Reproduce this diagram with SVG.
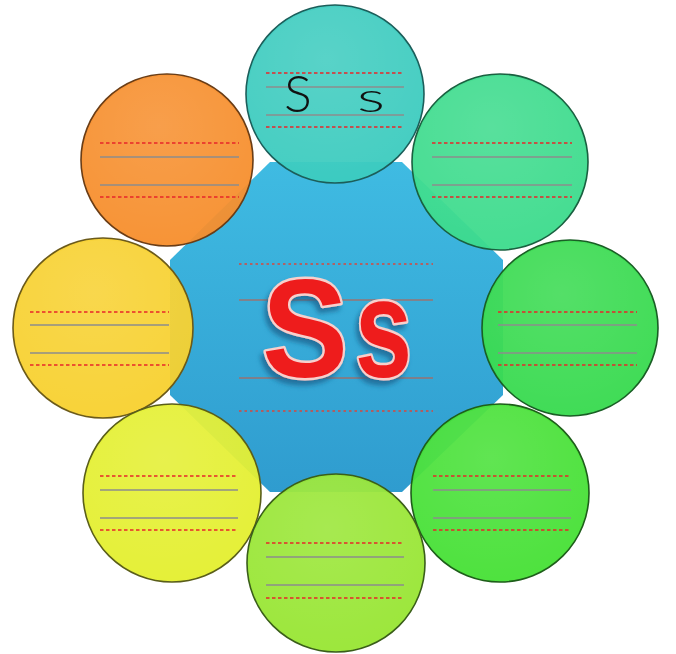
<svg xmlns="http://www.w3.org/2000/svg" width="676" height="654" viewBox="0 0 676 654">
  <style>
    .petal { stroke-width: 1.6; fill-opacity: 0.95; }
    .red { stroke: #e8262a; stroke-width: 1.3; stroke-dasharray: 3.5 2.5; fill: none; }
    .gray { stroke: #8c8c8c; stroke-width: 1.4; fill: none; }
    .cdot { stroke: #d9473c; stroke-width: 1.6; stroke-dasharray: 2.5 3; fill: none; }
    .csolid { stroke: #c9563f; stroke-width: 1; fill: none; }
    .big { font-family: "Liberation Sans", Arial, sans-serif; font-weight: bold; font-size: 140px; }
    .small { font-family: Lato, "Open Sans", "Liberation Sans", sans-serif; font-weight: 300; fill: #111; }
  </style>
  <defs>
    <linearGradient id="blue" x1="0" y1="0" x2="0" y2="1">
      <stop offset="0" stop-color="#3fbbe2"/>
      <stop offset="1" stop-color="#2f9ccf"/>
    </linearGradient>
    <radialGradient id="hl" cx="0.45" cy="0.3" r="0.7">
      <stop offset="0" stop-color="#ffffff" stop-opacity="0.1"/>
      <stop offset="1" stop-color="#ffffff" stop-opacity="0"/>
    </radialGradient>
    <filter id="sh" x="-20%" y="-20%" width="140%" height="140%">
      <feDropShadow dx="-3" dy="5" stdDeviation="2.5" flood-color="#1d5f8a" flood-opacity="0.75"/>
    </filter>
  </defs>

  <rect width="676" height="654" fill="#ffffff"/>

  <g id="center">
    <polygon points="270,162 402,162 503,260 503,395 402,492 270,492 170,395 170,260" fill="url(#blue)"/>
    <line class="cdot" x1="239" y1="264" x2="433" y2="264"/>
    <line class="csolid" x1="239" y1="300" x2="433" y2="300"/>
    <line class="csolid" x1="239" y1="378" x2="433" y2="378"/>
    <line class="cdot" x1="239" y1="411" x2="433" y2="411"/>
    <text class="big" fill="#ee1a1f" stroke="#f7d0cc" stroke-width="5" stroke-linejoin="round" paint-order="stroke" filter="url(#sh)" y="377"><tspan x="262" textLength="86" lengthAdjust="spacingAndGlyphs">S</tspan><tspan x="355" textLength="57" lengthAdjust="spacingAndGlyphs">s</tspan></text>
  </g>

  <g id="petal-left">
    <circle class="petal" cx="103" cy="328" r="90" fill="#f8d12e" stroke="#6b5a1a"/>
    <circle cx="103" cy="328" r="88" fill="url(#hl)"/>
    <line class="red" x1="30" y1="312" x2="169" y2="312"/>
    <line class="gray" x1="30" y1="325" x2="169" y2="325"/>
    <line class="gray" x1="30" y1="353" x2="169" y2="353"/>
    <line class="red" x1="30" y1="365" x2="169" y2="365"/>
  </g>

  <g id="petal-upper-left">
    <circle class="petal" cx="167" cy="160" r="86" fill="#f78e2c" stroke="#6a3d16"/>
    <circle cx="167" cy="160" r="84" fill="url(#hl)"/>
    <line class="red" x1="100" y1="143" x2="239" y2="143"/>
    <line class="gray" x1="100" y1="157" x2="239" y2="157"/>
    <line class="gray" x1="100" y1="185" x2="239" y2="185"/>
    <line class="red" x1="100" y1="197" x2="239" y2="197"/>
  </g>

  <g id="petal-top">
    <circle class="petal" cx="335" cy="94" r="89" fill="#3ccbbf" stroke="#1c5e5a"/>
    <circle cx="335" cy="94" r="87" fill="url(#hl)"/>
    <line class="red" x1="266" y1="73" x2="404" y2="73"/>
    <line class="gray" x1="266" y1="87" x2="404" y2="87"/>
    <line class="gray" x1="266" y1="115" x2="404" y2="115"/>
    <line class="red" x1="266" y1="127" x2="404" y2="127"/>
    <text class="small" y="112"><tspan x="284" font-size="52">S</tspan><tspan x="357" font-size="42" textLength="28" lengthAdjust="spacingAndGlyphs">s</tspan></text>
  </g>

  <g id="petal-upper-right">
    <circle class="petal" cx="500" cy="162" r="88" fill="#3cdb8c" stroke="#1a6040"/>
    <circle cx="500" cy="162" r="86" fill="url(#hl)"/>
    <line class="red" x1="432" y1="143" x2="572" y2="143"/>
    <line class="gray" x1="432" y1="157" x2="572" y2="157"/>
    <line class="gray" x1="432" y1="185" x2="572" y2="185"/>
    <line class="red" x1="432" y1="197" x2="572" y2="197"/>
  </g>

  <g id="petal-right">
    <circle class="petal" cx="570" cy="328" r="88" fill="#37da4e" stroke="#1a5e25"/>
    <circle cx="570" cy="328" r="86" fill="url(#hl)"/>
    <line class="red" x1="498" y1="312" x2="637" y2="312"/>
    <line class="gray" x1="498" y1="325" x2="637" y2="325"/>
    <line class="gray" x1="498" y1="353" x2="637" y2="353"/>
    <line class="red" x1="498" y1="365" x2="637" y2="365"/>
  </g>

  <g id="petal-lower-right">
    <circle class="petal" cx="500" cy="493" r="89" fill="#46e035" stroke="#1e5e1a"/>
    <circle cx="500" cy="493" r="87" fill="url(#hl)"/>
    <line class="red" x1="433" y1="476" x2="571" y2="476"/>
    <line class="gray" x1="433" y1="490" x2="571" y2="490"/>
    <line class="gray" x1="433" y1="518" x2="571" y2="518"/>
    <line class="red" x1="433" y1="530" x2="571" y2="530"/>
  </g>

  <g id="petal-lower-left">
    <circle class="petal" cx="172" cy="493" r="89" fill="#e4ef2e" stroke="#5a5e1a"/>
    <circle cx="172" cy="493" r="87" fill="url(#hl)"/>
    <line class="red" x1="100" y1="476" x2="238" y2="476"/>
    <line class="gray" x1="100" y1="490" x2="238" y2="490"/>
    <line class="gray" x1="100" y1="518" x2="238" y2="518"/>
    <line class="red" x1="100" y1="530" x2="238" y2="530"/>
  </g>

  <g id="petal-bottom">
    <circle class="petal" cx="336" cy="563" r="89" fill="#98e633" stroke="#3a5e1a"/>
    <circle cx="336" cy="563" r="87" fill="url(#hl)"/>
    <line class="red" x1="266" y1="543" x2="404" y2="543"/>
    <line class="gray" x1="266" y1="557" x2="404" y2="557"/>
    <line class="gray" x1="266" y1="585" x2="404" y2="585"/>
    <line class="red" x1="266" y1="598" x2="404" y2="598"/>
  </g>
</svg>
